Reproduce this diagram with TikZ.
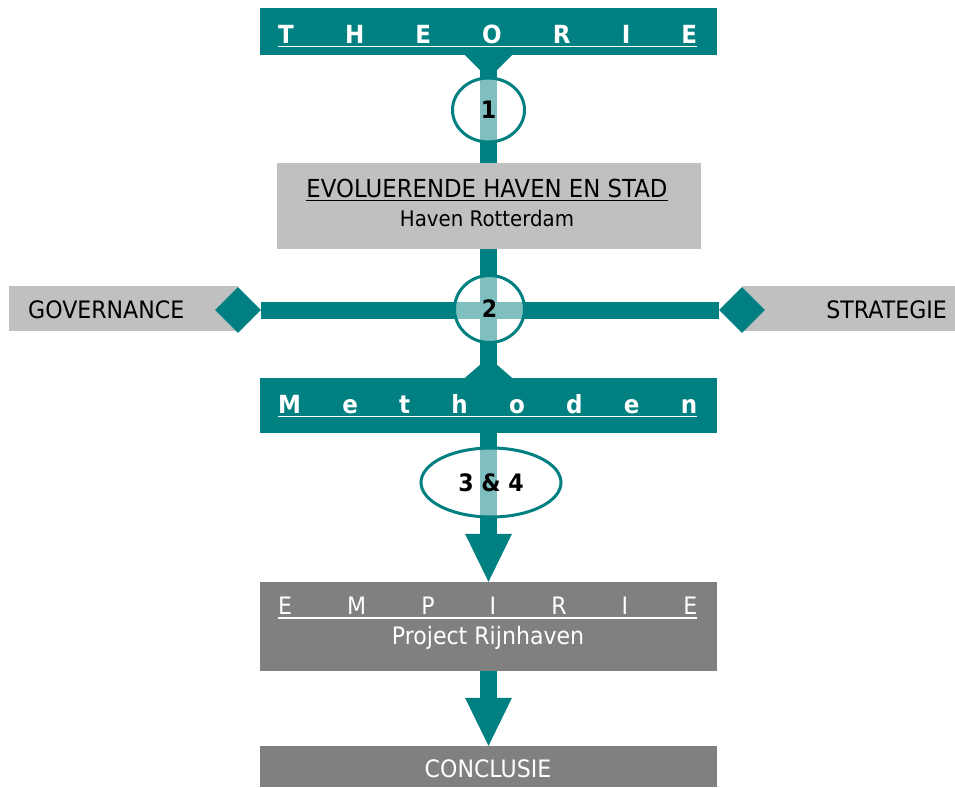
\documentclass[tikz,border=0pt]{standalone}
\usepackage{fontspec}
\setmainfont[FakeStretch=0.92]{DejaVu Sans}
\usetikzlibrary{shapes.geometric,arrows.meta,backgrounds}

\definecolor{mainteal}{HTML}{008080}
\definecolor{stemlight}{HTML}{80BFBF}
\definecolor{boxlight}{HTML}{C0C0C0}
\definecolor{boxdark}{HTML}{808080}

\newcommand\setfs[1]{\fontsize{#1}{#1}\selectfont}

\tikzset{
  tealbox/.style={rectangle, fill=mainteal, inner sep=0pt},
  lightbox/.style={rectangle, fill=boxlight, inner sep=0pt},
  darkbox/.style={rectangle, fill=boxdark, inner sep=0pt},
  knob/.style={diamond, fill=mainteal, minimum width=46pt, minimum height=46pt, inner sep=0pt},
  ring/.style={ellipse, draw=mainteal, line width=3pt, inner sep=0pt, font=\setfs{24}\bfseries},
  stem/.style={draw=mainteal, line width=17pt},
  stemlt/.style={draw=stemlight, line width=17pt},
  headtip/.style={-{Triangle[width=47pt, length=48pt, line width=0pt]}},
  hdr/.style={inner sep=0pt, text=white, font=\setfs{25}\bfseries},
  hdrthin/.style={inner sep=0pt, text=white, font=\setfs{24}},
  lbl/.style={inner sep=0pt, font=\setfs{24}},
  ulwhite/.style={draw=white, line width=1.3pt},
  ulblack/.style={draw=black, line width=1.3pt},
}

\begin{document}
\begin{tikzpicture}[x=1pt, y=-1pt]
\useasboundingbox (0,0) rectangle (955,787);

% main column of boxes
\node[tealbox, minimum width=457pt, minimum height=47pt] (theorie) at (488.5,31.5) {};
\node[lightbox, minimum width=424pt, minimum height=86pt] (evol) at (488.5,206) {};
\node[tealbox, minimum width=457pt, minimum height=55pt] (methoden) at (488.5,405.5) {};
\node[darkbox, minimum width=457pt, minimum height=89pt] (empirie) at (488.5,626.5) {};
\node[darkbox, minimum width=457pt, minimum height=41pt] (conclusie) at (488.5,766.5) {};

% side boxes with their diamond ends
\node[lightbox, minimum width=229pt, minimum height=45pt] (gov) at (123.5,308.5) {};
\node[lightbox, minimum width=213pt, minimum height=45pt] (strat) at (848.5,308.5) {};
\node[knob] (dl) at (238,310) {};
\node[knob] (dr) at (742,310) {};

% numbered rings
\node[ring, minimum width=72pt, minimum height=64pt] (c1) at (488.5,110) {1};
\node[ring, minimum width=70pt, minimum height=67pt] (c2) at (489.5,309) {2};
\node[ring, minimum width=140pt, minimum height=69pt] (c34) at (491,482.5) {3 \& 4};

% box texts
\node[hdr, anchor=base west] (theorieT) at (278,43)
  {\hbox to 419pt{T\hfil H\hfil E\hfil O\hfil R\hfil I\hfil E}};
\draw[ulwhite] ([yshift=-3.5pt]theorieT.base west) -- ([yshift=-3.5pt]theorieT.base east);

\node[lbl, anchor=base, font=\setfs{24.8}] (evolT) at (487,197) {EVOLUERENDE HAVEN EN STAD};
\draw[ulblack] ([yshift=-3.7pt]evolT.base west) -- ([yshift=-3.7pt]evolT.base east);
\node[lbl, anchor=base, font=\setfs{21.5}] (evolS) at (487,226) {Haven Rotterdam};

\node[lbl, anchor=base west] (govT) at (28,318) {GOVERNANCE};
\node[lbl, anchor=base east] (stratT) at (947,318) {STRATEGIE};

\node[hdr, anchor=base west] (methodenT) at (278,413)
  {\hbox to 419pt{M\hfil e\hfil t\hfil h\hfil o\hfil d\hfil e\hfil n}};
\draw[ulwhite] ([yshift=-3.5pt]methodenT.base west) -- ([yshift=-3.5pt]methodenT.base east);

\node[hdrthin, anchor=base west] (empirieT) at (278,614)
  {\hbox to 419pt{E\hfil M\hfil P\hfil I\hfil R\hfil I\hfil E}};
\draw[ulwhite] ([yshift=-4pt]empirieT.base west) -- ([yshift=-4pt]empirieT.base east);
\node[hdrthin, anchor=base] (empirieS) at (488,644) {Project Rijnhaven};

\node[hdrthin, anchor=base] (conclusieT) at (488,777) {CONCLUSIE};

% connectors, kept behind boxes and rings
\begin{scope}[on background layer]
  \draw[stem] (theorie) -- (evol);
  \draw[stem] (evol) -- (methoden);
  \draw[stem] (dl) -- (dr);
  \draw[stem, headtip] (methoden) -- (empirie);
  \draw[stem, headtip] (empirie) -- (conclusie);
  % flared joints at the teal headers
  \fill[mainteal] ([xshift=-23.5pt]theorie.south) -- ([xshift=23.5pt]theorie.south)
    -- ([xshift=8.5pt, yshift=-15pt]theorie.south) -- ([xshift=-8.5pt, yshift=-15pt]theorie.south) -- cycle;
  \fill[mainteal] ([xshift=-23.5pt]methoden.north) -- ([xshift=23.5pt]methoden.north)
    -- ([xshift=8.5pt, yshift=13pt]methoden.north) -- ([xshift=-8.5pt, yshift=13pt]methoden.north) -- cycle;
  % lighter stem where it crosses each ring
  \begin{scope}
    \clip (c1.center) ellipse [x radius=35pt, y radius=31pt];
    \draw[stemlt] (theorie) -- (evol);
  \end{scope}
  \begin{scope}
    \clip (c2.center) ellipse [x radius=34pt, y radius=32.5pt];
    \draw[stemlt] (evol) -- (methoden);
    \draw[stemlt] (dl) -- (dr);
  \end{scope}
  \begin{scope}
    \clip (c34.center) ellipse [x radius=69pt, y radius=33.5pt];
    \draw[stemlt] (methoden) -- (empirie);
  \end{scope}
\end{scope}
\end{tikzpicture}
\end{document}
